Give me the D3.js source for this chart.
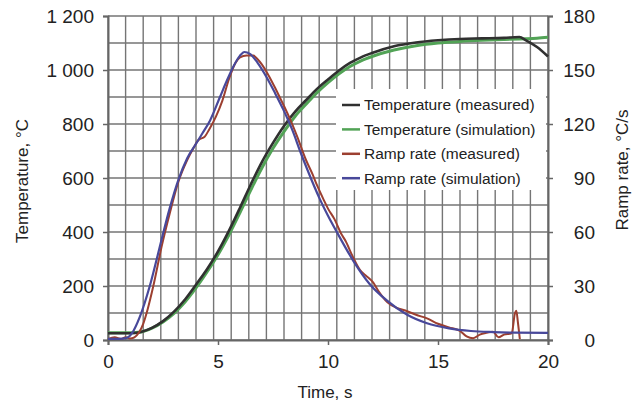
<!DOCTYPE html>
<html>
<head>
<meta charset="utf-8">
<script src="https://cdn.jsdelivr.net/npm/d3@7"></script>
<style>
  body { margin: 0; background: white; }
  text { font-family: "Liberation Sans", Arial, sans-serif; fill: #222; }
</style>
</head>
<body>
<script>
/* Temperature and ramp rate vs time, measured and simulated */

// temperature curves (left axis, °C)
var tempTime       = [0, 0.5, 1, 1.5, 2, 2.5, 3, 3.5, 4, 4.5, 5, 5.5, 6, 6.5, 7, 7.5, 8, 8.5, 9, 9.5, 10, 10.5, 11, 11.5, 12, 13, 14, 15, 16, 17, 18, 18.7, 19, 19.5, 20]
var tempMeasured   = [25, 25, 25, 30, 45, 70, 105, 150, 205, 262, 328, 405, 490, 578, 660, 730, 793, 845, 888, 930, 965, 998, 1026, 1047, 1063, 1088, 1102, 1110, 1115, 1117, 1119, 1122, 1110, 1085, 1050]
var tempSimulation = [27, 27, 27, 30, 44, 67, 99, 141, 193, 252, 316, 390, 472, 557, 638, 710, 772, 828, 873, 916, 953, 986, 1013, 1034, 1050, 1074, 1090, 1100, 1106, 1110, 1113, 1115, 1116, 1118, 1121]

// ramp rate curves (right axis, °C/s)
var rateMeasTime = [0, 0.3, 0.6, 0.8, 1.0, 1.2, 1.4, 1.6, 1.8, 2.06, 2.44, 2.8, 3.2, 3.6, 3.9, 4.1, 4.4, 4.6, 4.9, 5.2, 5.5, 5.8, 6.0, 6.3, 6.6, 6.8, 7.0, 7.3, 7.6, 7.8, 8.0, 8.3, 8.6, 9.0, 9.3, 9.5, 9.8, 10.0, 10.3, 10.6, 10.8, 11.1, 11.45, 11.7, 12.05, 12.3, 12.7, 13.1, 13.6, 14.0, 14.5, 15.0, 15.5, 16.0, 16.3, 16.6, 16.9, 17.2, 17.5, 17.75, 18.0, 18.35, 18.5, 18.56, 18.63, 18.72]
var rateMeasured = [0.5, 1.5, 0.5, 1.5, 0.8, 1.5, 4, 9, 17, 30, 52, 70, 88, 100, 107, 111, 113, 117, 124, 133, 145, 154, 157, 158, 158, 156, 153, 147, 140, 135, 130, 122, 113, 100, 92, 86, 78, 73, 67, 59, 55, 47, 39, 36, 32, 27, 21, 18, 16, 14, 12, 9, 7, 5, 2, 1, 3, 4, 4.6, 1.5, 3, 3.7, 15, 16.3, 10, 0.5]
var rateSimTime   = [0, 0.5, 0.85, 1.1, 1.45, 1.9, 2.44, 2.8, 3.2, 3.6, 4.0, 4.3, 4.64, 5.09, 5.4, 5.7, 6.0, 6.2, 6.45, 6.8, 7.21, 7.6, 7.97, 8.4, 8.73, 9.05, 9.64, 10.0, 10.4, 11.15, 11.9, 12.67, 13.6, 14.5, 15.5, 16.5, 17.5, 18.5, 20]
var rateSimulation = [0.6, 0.6, 1.2, 4, 13, 30, 56, 73, 89, 101, 109, 115, 122, 135, 144, 152, 158, 160, 159, 154, 146, 137, 128, 116, 105, 95, 78, 69, 60, 44, 31, 22, 14, 9.3, 6.5, 5, 4.4, 4.1, 4]

var xTicks = [0, 5, 10, 15, 20]
var tempTicks = [0, 200, 400, 600, 800, 1000, 1200]
var rateTicks = [0, 30, 60, 90, 120, 150, 180]
var legendNames = ["Temperature (measured)", "Temperature (simulation)", "Ramp rate (measured)", "Ramp rate (simulation)"]

function drawChart(){

  var margin = {top: 16, right: 91, bottom: 63, left: 108},
      width = 639,
      height = 403,
      w = width - margin.left - margin.right,
      h = height - margin.top - margin.bottom;

  var colors = ["#303030", "#52a356", "#9c3f30", "#48489a"];

  var x = d3.scaleLinear().domain([0, 20]).range([0, w]);
  var yTemp = d3.scaleLinear().domain([0, 1200]).range([h, 0]);
  var yRate = d3.scaleLinear().domain([0, 180]).range([h, 0]);

  var svg = d3.select("body").append("svg")
      .attr("width", width)
      .attr("height", height)
    .append("g")
      .attr("transform", "translate(" + margin.left + "," + margin.top + ")");

  // grid: 25 columns, 12 rows
  svg.append("g").selectAll("line")
      .data(d3.range(0, 25.5, 1))
      .enter().append("line")
      .attr("x1", function(d){ return x(d * 0.8) })
      .attr("x2", function(d){ return x(d * 0.8) })
      .attr("y1", 0)
      .attr("y2", h)
      .style("stroke", "#757575")
      .style("stroke-width", 1.4);

  svg.append("g").selectAll("line")
      .data(d3.range(0, 1201, 100))
      .enter().append("line")
      .attr("x1", 0)
      .attr("x2", w)
      .attr("y1", function(d){ return yTemp(d) })
      .attr("y2", function(d){ return yTemp(d) })
      .style("stroke", "#757575")
      .style("stroke-width", 1.4);

  // white legend background hides the grid
  svg.append("rect")
      .attr("x", 228)
      .attr("y", 73)
      .attr("width", 210)
      .attr("height", 101)
      .style("fill", "white");

  var fmt = d3.formatLocale({decimal: ".", thousands: " ", grouping: [3], currency: ["", ""]}).format(",");

  // axes
  var left = svg.append("g")
      .call(d3.axisLeft(yTemp).tickValues(tempTicks).tickSize(5).tickPadding(9).tickFormat(fmt));

  var right = svg.append("g")
      .attr("transform", "translate(" + w + ",0)")
      .call(d3.axisRight(yRate).tickValues(rateTicks).tickSize(5).tickPadding(9));
  right.selectAll("text").attr("x", 47).style("text-anchor", "end");

  var bottom = svg.append("g")
      .attr("transform", "translate(0," + h + ")")
      .call(d3.axisBottom(x).tickValues(xTicks).tickSize(5).tickPadding(9.5));

  [left, right, bottom].forEach(function(a){
    a.select(".domain").style("stroke", "#666").style("stroke-width", 2);
    a.selectAll(".tick line").style("stroke", "#666").style("stroke-width", 1.5);
    a.selectAll("text").style("font-size", "19px").style("fill", "#222")
      .style("font-family", "'Liberation Sans', Arial, sans-serif");
  });

  // curves
  var series = [
    {time: tempTime, values: tempMeasured, y: yTemp, width: 2.6},
    {time: tempTime, values: tempSimulation, y: yTemp, width: 3},
    {time: rateMeasTime, values: rateMeasured, y: yRate, width: 2},
    {time: rateSimTime, values: rateSimulation, y: yRate, width: 2.2}
  ];
  // draw green under black like the original
  var order = [1, 0, 2, 3];

  order.forEach(function(i){
    var s = series[i];
    var line = d3.line()
        .x(function(d){ return x(d) })
        .y(function(d, j){ return s.y(s.values[j]) })
        .curve(d3.curveMonotoneX);
    svg.append("path")
        .attr("d", line(s.time))
        .style("fill", "none")
        .style("stroke", colors[i])
        .style("stroke-width", s.width)
        .style("stroke-linejoin", "round");
  });

  // legend
  var legend = svg.selectAll(".legend")
      .data(legendNames)
      .enter().append("g")
      .attr("class", "legend")
      .attr("transform", function(d, i){ return "translate(234," + (89 + i * 24.4) + ")" });

  legend.append("line")
      .attr("x1", 0)
      .attr("x2", 18)
      .style("stroke", function(d, i){ return colors[i] })
      .style("stroke-width", 2.5);

  legend.append("text")
      .attr("x", 22)
      .attr("dy", ".35em")
      .text(function(d){ return d })
      .style("font-size", "15.5px");

  // axis titles
  svg.append("text")
      .attr("transform", "translate(" + (-80) + "," + 165 + ") rotate(-90)")
      .style("text-anchor", "middle")
      .style("font-size", "17px")
      .text("Temperature, °C");

  svg.append("text")
      .attr("transform", "translate(" + (w + 80) + "," + 154 + ") rotate(-90)")
      .style("text-anchor", "middle")
      .style("font-size", "17px")
      .text("Ramp rate, °C/s");

  svg.append("text")
      .attr("x", 217)
      .attr("y", h + 58)
      .style("text-anchor", "middle")
      .style("font-size", "17px")
      .text("Time, s");
}

drawChart()
</script>
</body>
</html>
